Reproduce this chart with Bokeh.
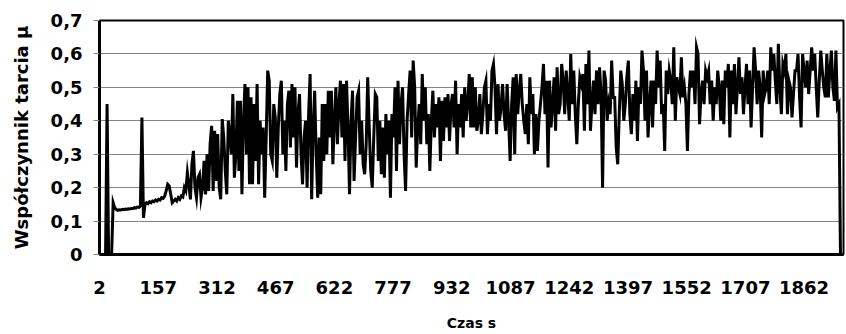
from bokeh.plotting import figure
from bokeh.models import Range1d, FixedTicker, CustomJSTickFormatter, ColumnDataSource
from bokeh.embed import file_html
from bokeh.resources import INLINE

# time axis (s) — samples every 4 s
time_s = list(range(2, 1963, 4))

# friction coefficient (rows of 40 s)
mu = [
    0, 0, 0, 0, 0, 0.45, 0, 0, 0, 0.155,
    0.14, 0.135, 0.132, 0.134, 0.133, 0.135, 0.134, 0.136, 0.135, 0.137,
    0.136, 0.138, 0.137, 0.14, 0.139, 0.142, 0.141, 0.145, 0.41, 0.11,
    0.15, 0.155, 0.152, 0.158, 0.155, 0.16, 0.158, 0.163, 0.16, 0.165,
    0.163, 0.17, 0.168, 0.175, 0.19, 0.21, 0.205, 0.18, 0.155, 0.16,
    0.165, 0.16, 0.17, 0.165, 0.175, 0.172, 0.20, 0.19, 0.245, 0.21,
    0.165, 0.27, 0.31, 0.20, 0.17, 0.23, 0.24, 0.17, 0.20, 0.28,
    0.18, 0.30, 0.19, 0.33, 0.385, 0.19, 0.37, 0.22, 0.36, 0.20,
    0.165, 0.405, 0.35, 0.25, 0.18, 0.40, 0.36, 0.30, 0.48, 0.23,
    0.30, 0.46, 0.25, 0.46, 0.18, 0.40, 0.51, 0.30, 0.50, 0.21,
    0.47, 0.21, 0.45, 0.28, 0.51, 0.21, 0.40, 0.30, 0.38, 0.17,
    0.35, 0.55, 0.52, 0.30, 0.28, 0.45, 0.41, 0.23, 0.38, 0.48,
    0.52, 0.30, 0.40, 0.25, 0.45, 0.49, 0.32, 0.51, 0.35, 0.50,
    0.26, 0.42, 0.48, 0.30, 0.21, 0.35, 0.40, 0.20, 0.42, 0.54,
    0.165, 0.38, 0.49, 0.30, 0.17, 0.35, 0.18, 0.45, 0.28, 0.45,
    0.30, 0.49, 0.35, 0.49, 0.27, 0.40, 0.50, 0.33, 0.45, 0.52,
    0.35, 0.51, 0.28, 0.52, 0.38, 0.18, 0.40, 0.49, 0.22, 0.35,
    0.47, 0.49, 0.30, 0.40, 0.27, 0.24, 0.33, 0.53, 0.38, 0.25,
    0.20, 0.35, 0.48, 0.47, 0.28, 0.40, 0.24, 0.38, 0.23, 0.42,
    0.30, 0.40, 0.17, 0.42, 0.35, 0.50, 0.25, 0.52, 0.33, 0.45,
    0.50, 0.30, 0.19, 0.40, 0.48, 0.55, 0.35, 0.58, 0.50, 0.26,
    0.38, 0.45, 0.33, 0.54, 0.40, 0.50, 0.33, 0.42, 0.25, 0.40,
    0.49, 0.35, 0.45, 0.38, 0.47, 0.28, 0.46, 0.34, 0.47, 0.38,
    0.48, 0.34, 0.45, 0.48, 0.38, 0.52, 0.30, 0.45, 0.38, 0.48,
    0.35, 0.50, 0.40, 0.45, 0.54, 0.38, 0.53, 0.38, 0.50, 0.37,
    0.40, 0.48, 0.36, 0.42, 0.50, 0.52, 0.36, 0.45, 0.40, 0.55,
    0.57, 0.50, 0.36, 0.51, 0.40, 0.44, 0.51, 0.42, 0.37, 0.51,
    0.40, 0.28, 0.45, 0.53, 0.30, 0.54, 0.42, 0.49, 0.54, 0.45,
    0.40, 0.36, 0.45, 0.33, 0.53, 0.42, 0.48, 0.30, 0.42, 0.31,
    0.40, 0.45, 0.50, 0.57, 0.42, 0.52, 0.26, 0.52, 0.38, 0.45,
    0.53, 0.37, 0.56, 0.42, 0.45, 0.57, 0.52, 0.42, 0.55, 0.48,
    0.40, 0.60, 0.45, 0.55, 0.42, 0.33, 0.45, 0.53, 0.51, 0.54,
    0.37, 0.57, 0.45, 0.61, 0.37, 0.45, 0.52, 0.42, 0.55, 0.45,
    0.56, 0.48, 0.20, 0.55, 0.52, 0.40, 0.45, 0.42, 0.58, 0.47,
    0.47, 0.32, 0.27, 0.42, 0.55, 0.51, 0.40, 0.45, 0.53, 0.58,
    0.42, 0.36, 0.48, 0.40, 0.52, 0.34, 0.50, 0.45, 0.61, 0.55,
    0.40, 0.55, 0.35, 0.45, 0.52, 0.38, 0.52, 0.45, 0.61, 0.50,
    0.58, 0.42, 0.45, 0.31, 0.55, 0.48, 0.55, 0.52, 0.45, 0.62,
    0.40, 0.53, 0.50, 0.48, 0.59, 0.47, 0.50, 0.45, 0.31, 0.48,
    0.55, 0.50, 0.55, 0.45, 0.62, 0.60, 0.39, 0.48, 0.52, 0.45,
    0.55, 0.53, 0.55, 0.45, 0.52, 0.40, 0.50, 0.45, 0.55, 0.50,
    0.40, 0.52, 0.39, 0.55, 0.50, 0.57, 0.35, 0.55, 0.45, 0.57,
    0.42, 0.50, 0.59, 0.48, 0.53, 0.42, 0.50, 0.57, 0.45, 0.55,
    0.38, 0.50, 0.62, 0.55, 0.45, 0.55, 0.50, 0.35, 0.55, 0.48,
    0.50, 0.55, 0.45, 0.62, 0.55, 0.60, 0.52, 0.45, 0.63, 0.50,
    0.42, 0.57, 0.55, 0.60, 0.42, 0.52, 0.50, 0.41, 0.48, 0.55,
    0.55, 0.60, 0.47, 0.38, 0.60, 0.55, 0.50, 0.58, 0.48, 0.55,
    0.62, 0.55, 0.60, 0.50, 0.41, 0.52, 0.61, 0.55, 0.50, 0.47,
    0.60, 0.47, 0.55, 0.61, 0.50, 0.46, 0.61, 0.44, 0.45, 0,
    0,
]

x_ticks = [2, 157, 312, 467, 622, 777, 932, 1087, 1242, 1397, 1552, 1707, 1862]
y_ticks = [0, 0.1, 0.2, 0.3, 0.4, 0.5, 0.6, 0.7]

FONT = "DejaVu Sans"

p = figure(width=846, height=334, output_backend="svg", toolbar_location=None,
           x_range=Range1d(2, 1966), y_range=Range1d(0, 0.7),
           min_border_left=99, min_border_right=3, min_border_top=20, min_border_bottom=80)
p.background_fill_color = "white"
p.border_fill_color = "white"
p.outline_line_color = "black"
p.outline_line_width = 2

src = ColumnDataSource(dict(t=time_s, mu=mu))
p.line("t", "mu", source=src, line_color="black", line_width=3, line_join="miter")

p.xgrid.grid_line_color = None
p.ygrid.ticker = FixedTicker(ticks=y_ticks)
p.ygrid.grid_line_color = "#858585"
p.ygrid.grid_line_width = 1

xa = p.xaxis[0]
xa.ticker = FixedTicker(ticks=x_ticks)
xa.axis_line_color = "black"
xa.axis_line_width = 3
xa.major_tick_line_color = None
xa.minor_tick_line_color = None
xa.major_tick_out = 0
xa.major_tick_in = 0
xa.major_label_standoff = 26
xa.major_label_text_font = FONT
xa.major_label_text_font_style = "bold"
xa.major_label_text_font_size = "18px"
xa.major_label_text_color = "black"
xa.axis_label = "Czas s"
xa.axis_label_text_font = FONT
xa.axis_label_text_font_style = "bold"
xa.axis_label_text_font_size = "14px"
xa.axis_label_text_color = "black"
xa.axis_label_standoff = 18

ya = p.yaxis[0]
ya.ticker = FixedTicker(ticks=y_ticks)
ya.formatter = CustomJSTickFormatter(code="return tick == 0 ? '0' : tick.toFixed(1).replace('.', ',');")
ya.axis_line_color = "black"
ya.axis_line_width = 3
ya.major_tick_line_color = "#858585"
ya.major_tick_out = 6
ya.major_tick_in = 0
ya.minor_tick_line_color = None
ya.major_label_standoff = 11
ya.major_label_text_font = FONT
ya.major_label_text_font_style = "bold"
ya.major_label_text_font_size = "18px"
ya.major_label_text_color = "black"
ya.axis_label = "Współczynnik tarcia μ"
ya.axis_label_text_font = FONT
ya.axis_label_text_font_style = "bold"
ya.axis_label_text_font_size = "18px"
ya.axis_label_text_color = "black"
ya.axis_label_standoff = 16

open("out.html", "w").write(file_html(p, INLINE))
